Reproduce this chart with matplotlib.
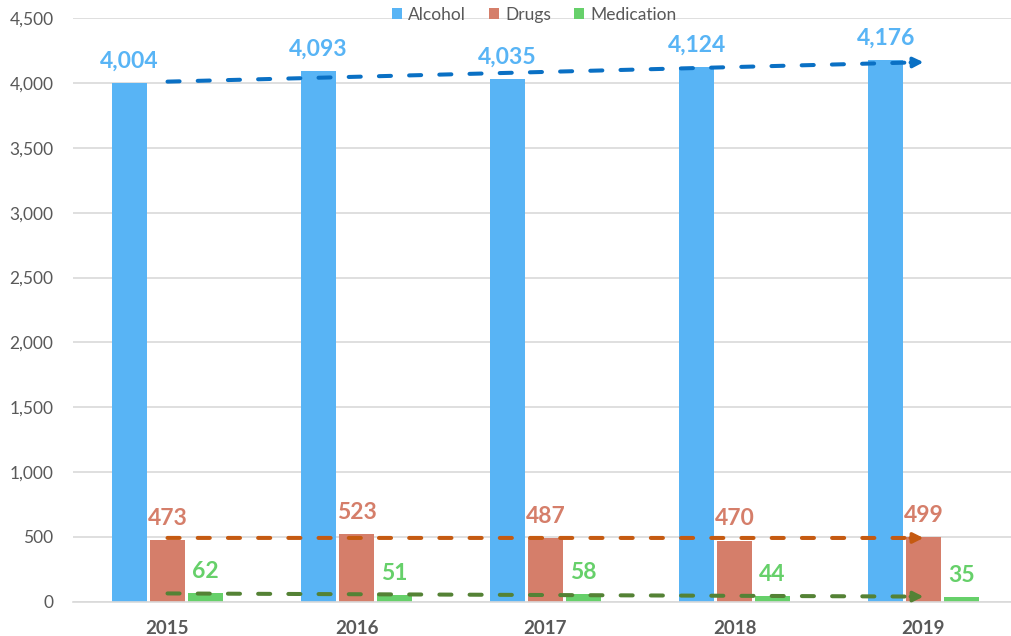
import matplotlib
matplotlib.use("Agg")
import matplotlib.pyplot as plt
import numpy as np

years = ["2015", "2016", "2017", "2018", "2019"]
alcohol = [4004, 4093, 4035, 4124, 4176]
drugs = [473, 523, 487, 470, 499]
medication = [62, 51, 58, 44, 35]

series = [
    ("Alcohol", alcohol, "#58B4F5", "#0A70C4"),
    ("Drugs", drugs, "#D57E6A", "#C55A11"),
    ("Medication", medication, "#66D06A", "#548235"),
]

plt.rcParams['font.family'] = ['Lato', 'DejaVu Sans']

fig = plt.figure(figsize=(10.12, 6.36), dpi=100)
left = 73 / 1012
width = 945 / 1012
bottom = (636 - 601.5) / 636
height = (601.5 - 18.3) / 636
ax = fig.add_axes([left, bottom, width, height])

x = np.arange(len(years))
bw = 0.183
offsets = [-0.2, 0.0, 0.2]

handles = []
for (name, vals, col, tcol), off in zip(series, offsets):
    b = ax.bar(x + off, vals, width=bw, color=col, label=name, zorder=2)
    handles.append(b)
    for xi, v in zip(x, vals):
        ax.annotate(f"{v:,}", (xi + off, v), xytext=(0, 8), textcoords="offset points",
                    ha="center", va="bottom", fontsize=16.5, fontweight="bold", color=col, zorder=5)

# linear trendlines with arrow
for (name, vals, col, tcol) in series:
    k, c = np.polyfit(x, vals, 1)
    xs = np.array([x[0], x[-1]])
    ys = k * xs + c
    xe = xs[1] - 0.1
    ax.plot([xs[0], xe], [ys[0], k * xe + c], color=tcol, lw=2.9,
            linestyle=(0, (3.0, 4.5)), dash_capstyle="round", zorder=4)
    ax.annotate("", xy=(xs[1], ys[1]), xytext=(xs[1] - 0.07, ys[1] - k * 0.07),
                arrowprops=dict(arrowstyle="-|>,head_length=0.6,head_width=0.3", color=tcol, lw=2.5,
                                shrinkA=0, shrinkB=0), zorder=4)

ax.set_xlim(-0.5, 4.5)
ax.set_ylim(0, 4500)
ax.set_yticks(np.arange(0, 4501, 500))
ax.set_yticklabels([f"{v:,}" for v in range(0, 4501, 500)])
ax.set_xticks(x)
ax.set_xticklabels(years, fontweight="bold")
ax.tick_params(axis="y", length=0, pad=14, labelsize=12.5, labelcolor="#595959")
ax.tick_params(axis="x", length=0, pad=13, labelsize=13.5, labelcolor="#595959")
ax.grid(axis="y", color="#D9D9D9", lw=1.2, zorder=0)
ax.set_axisbelow(True)
for s in ["top", "right", "left"]:
    ax.spines[s].set_visible(False)
ax.spines["bottom"].set_color("#D9D9D9")
ax.spines["bottom"].set_linewidth(1.2)

leg = fig.legend(handles=handles, labels=[s[0] for s in series], loc="center",
                 bbox_to_anchor=(534 / 1012, 1 - 15 / 636), ncol=3, frameon=False,
                 fontsize=12.5, handlelength=0.6, handleheight=0.6, handletextpad=0.35,
                 columnspacing=1.3, labelcolor="#595959")

fig.savefig("out.png", dpi=100, facecolor="white")
